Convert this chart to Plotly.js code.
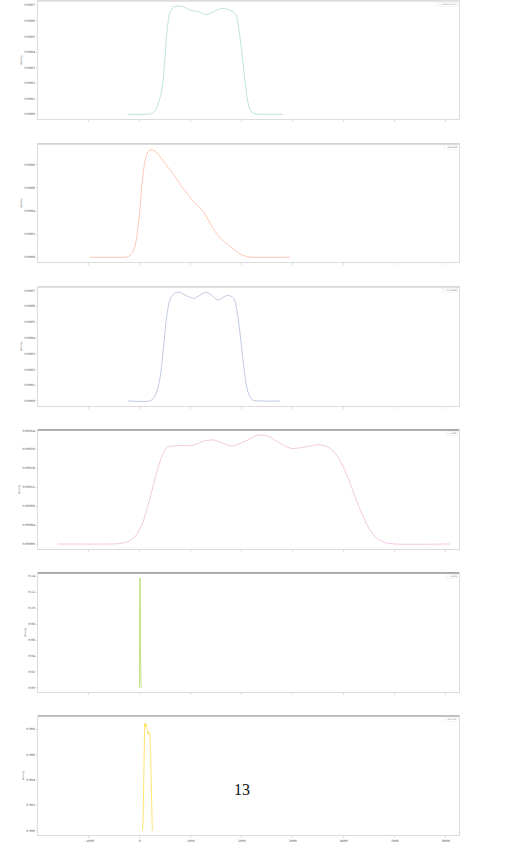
<!DOCTYPE html>
<html>
<head>
<meta charset="utf-8">
<script src="https://cdn.plot.ly/plotly-3.0.1.min.js"></script>
<style>html,body{margin:0;padding:0;background:#fff;}#chart{width:523px;height:848px;}</style>
</head>
<body>
<div id="chart"></div>
<script>
// ---- data ----
const seriesNames = ["uniform mix", "skewed", "trimodal", "wide", "spike", "narrow"];

const x1 = [-235, 98, 235, 314, 392, 451, 490, 529, 588, 666, 745, 862, 980, 1137, 1313, 1450, 1607, 1764, 1882, 1940, 1999, 2058, 2117, 2176, 2274, 2450, 2803];
const y1 = [0, 0, 0.000005, 0.00003, 0.00010, 0.00020, 0.00035, 0.00052, 0.00065, 0.00069, 0.000697, 0.00069, 0.00067, 0.00066, 0.00064, 0.00066, 0.00068, 0.00067, 0.00064, 0.00055, 0.00040, 0.00022, 0.00008, 0.00002, 0.000002, 0, 0];

const x2 = [-980, -392, -235, -157, -98, -59, 0, 39, 98, 157, 235, 314, 431, 549, 686, 823, 980, 1117, 1235, 1333, 1431, 1568, 1725, 1862, 1999, 2117, 2254, 2940];
const y2 = [0, 0, 0.000005, 0.00003, 0.00009, 0.00018, 0.00040, 0.00062, 0.00082, 0.00091, 0.00093, 0.00091, 0.00085, 0.00078, 0.00070, 0.00061, 0.00052, 0.00045, 0.00040, 0.00033, 0.00025, 0.00017, 0.00011, 0.00006, 0.00002, 0.000005, 0, 0];

const x3 = [-235, 196, 274, 353, 412, 470, 529, 588, 666, 764, 902, 1058, 1176, 1294, 1411, 1529, 1646, 1744, 1842, 1901, 1960, 2019, 2078, 2137, 2215, 2352, 2744];
const y3 = [0, 0, 0.00002, 0.00008, 0.00018, 0.00036, 0.00054, 0.00064, 0.00068, 0.00069, 0.00067, 0.00065, 0.00067, 0.00069, 0.00067, 0.00064, 0.00066, 0.00067, 0.00065, 0.00058, 0.00044, 0.00027, 0.00012, 0.00004, 0.000005, 0, 0];

const x4 = [-1610, -588, -392, -235, -98, 39, 157, 255, 353, 451, 549, 784, 1019, 1274, 1431, 1607, 1803, 2058, 2313, 2509, 2744, 2979, 3234, 3489, 3685, 3842, 3979, 4116, 4253, 4390, 4508, 4645, 4802, 4998, 6078];
const y4 = [0, 0, 0.000001, 0.000005, 0.000015, 0.00004, 0.00008, 0.00012, 0.00016, 0.00019, 0.000205, 0.000208, 0.000208, 0.000218, 0.00022, 0.000214, 0.000207, 0.000217, 0.00023, 0.000228, 0.000213, 0.000202, 0.000205, 0.00021, 0.000205, 0.00019, 0.000165, 0.00013, 0.00009, 0.000055, 0.00003, 0.000012, 0.000003, 0, 0];

const x5 = [-20, -6, -2, 2, 6, 10, 14, 25];
const y5 = [0, 0.002, 0.11, 0.1375, 0.13, 0.06, 0.002, 0];

const x6 = [50, 65, 75, 85, 95, 105, 115, 125, 140, 160, 180, 200, 212, 222, 232, 245];
const y6 = [0, 0.0008, 0.0035, 0.0070, 0.0084, 0.0085, 0.0082, 0.0084, 0.0080, 0.0076, 0.0078, 0.0076, 0.0060, 0.0030, 0.0008, 0];

const xTickVals = [-1000, 0, 1000, 2000, 3000, 4000, 5000, 6000];
const yTicks1 = [0, 0.0001, 0.0002, 0.0003, 0.0004, 0.0005, 0.0006, 0.0007];
const yTicks2 = [0, 0.0002, 0.0004, 0.0006, 0.0008];
const yTicks3 = [0, 0.0001, 0.0002, 0.0003, 0.0004, 0.0005, 0.0006, 0.0007];
const yTicks4 = [0, 0.00004, 0.00008, 0.00012, 0.00016, 0.00020, 0.00024];
const yTicks5 = [0, 0.02, 0.04, 0.06, 0.08, 0.10, 0.12, 0.14];
const yTicks6 = [0, 0.002, 0.004, 0.006, 0.008];
const pageNumber = "13";

// ---- styling ----
const colors = ["rgba(102,194,165,0.55)", "rgba(252,141,98,0.6)", "rgba(141,160,203,0.7)",
                "rgba(231,138,195,0.6)", "rgba(166,216,84,0.9)", "rgba(255,217,47,0.85)"];
const xs = [x1, x2, x3, x4, x5, x6];
const ys = [y1, y2, y3, y4, y5, y6];
const yTicks = [yTicks1, yTicks2, yTicks3, yTicks4, yTicks5, yTicks6];
const yFormats = [".4f", ".4f", ".4f", ".5f", ".2f", ".3f"];
const yRanges = [[-0.0000302, 0.000728], [-0.0000406, 0.000979], [-0.0000317, 0.000723],
                 [-0.0000106, 0.000241], [-0.005, 0.1438], [-0.00034, 0.00905]];
const domains = [[0.8585, 1.0], [0.6871, 0.8285], [0.5144, 0.6571],
                 [0.3429, 0.4856], [0.1715, 0.3141], [0.0, 0.1427]];
const topLine = ["#dcdcdc", "#d0d0d0", "#d6d6d6", "#999999", "#999999", "#b0b0b0"];
const tickFont = {family: "DejaVu Serif, Liberation Serif, serif", size: 3, color: "#333"};

const traces = [];
const layout = {
  width: 523, height: 848,
  margin: {l: 38, r: 64, t: 1, b: 13},
  paper_bgcolor: "#ffffff", plot_bgcolor: "#ffffff",
  showlegend: false,
  shapes: [], annotations: []
};

for (let i = 0; i < 6; i++) {
  const n = i === 0 ? "" : String(i + 1);
  const smooth = i < 4;
  traces.push({
    type: "scatter", mode: "lines",
    x: xs[i], y: ys[i],
    xaxis: "x" + n, yaxis: "y" + n,
    name: seriesNames[i],
    line: {color: colors[i], width: 0.8, shape: smooth ? "spline" : "linear", smoothing: 0.7},
    hoverinfo: "skip"
  });
  layout["xaxis" + n] = {
    anchor: "y" + n,
    domain: [0, 1],
    range: [-1995, 6255],
    tickvals: xTickVals,
    showticklabels: i === 5,
    ticks: "outside", ticklen: 2, tickcolor: "#bbb", tickwidth: 0.5,
    tickfont: tickFont,
    showgrid: false, zeroline: false,
    showline: true, linecolor: "#dcdcdc", linewidth: 1, mirror: true
  };
  if (i > 0) layout["xaxis" + n].matches = "x";
  layout["yaxis" + n] = {
    anchor: "x" + n,
    domain: domains[i],
    range: yRanges[i],
    tickvals: yTicks[i],
    tickformat: yFormats[i],
    ticks: "outside", ticklen: 1.5, tickcolor: "#bbb", tickwidth: 0.5,
    tickfont: tickFont,
    showgrid: false, zeroline: false,
    showline: true, linecolor: "#dcdcdc", linewidth: 1, mirror: true,
    title: {text: "density", font: {family: "DejaVu Serif, serif", size: 2.5, color: "#666"}, standoff: 2}
  };
  layout.shapes.push({
    type: "line", xref: "x" + n + " domain", yref: "y" + n + " domain",
    x0: 0, x1: 1, y0: 1, y1: 1,
    line: {color: topLine[i], width: 1.5}
  });
  layout.annotations.push({
    xref: "x" + n + " domain", yref: "y" + n + " domain",
    x: 0.998, y: 0.995, xanchor: "right", yanchor: "top",
    showarrow: false,
    text: "<span style='color:" + colors[i] + "'>—</span> " + seriesNames[i],
    font: {family: "DejaVu Serif, serif", size: 2.5, color: "#777"},
    bgcolor: "rgba(255,255,255,0.9)", bordercolor: "#eee", borderwidth: 0.5, borderpad: 0.5
  });
}

layout.annotations.push({
  xref: "paper", yref: "paper", x: 0.4846, y: 0.054,
  xanchor: "center", yanchor: "middle", showarrow: false,
  text: pageNumber,
  font: {family: "Liberation Serif, DejaVu Serif, serif", size: 16, color: "#111"}
});

Plotly.newPlot("chart", traces, layout, {staticPlot: true, displayModeBar: false});
</script>
</body>
</html>
